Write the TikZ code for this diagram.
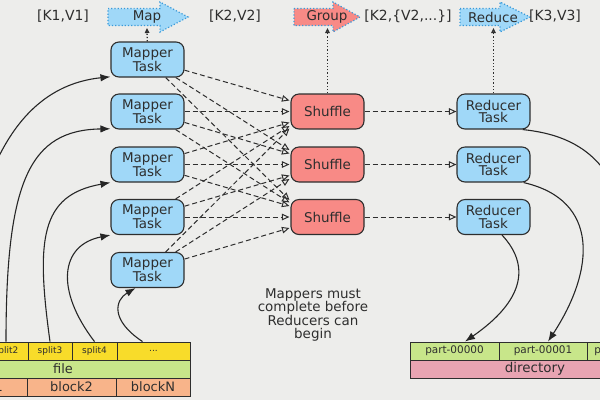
\documentclass[tikz,border=0pt]{standalone}
\usepackage{fontspec}
\setmainfont{DejaVu Sans}
\usetikzlibrary{arrows.meta,calc}
\definecolor{bg}{HTML}{EDEDEB}
\definecolor{taskblue}{HTML}{A0D8F8}
\definecolor{shufred}{HTML}{F88A86}
\definecolor{splity}{HTML}{F8DC2A}
\definecolor{filegreen}{HTML}{C8E68A}
\definecolor{blockor}{HTML}{F8B48A}
\definecolor{dirpink}{HTML}{E8A4B2}
\definecolor{dotblue}{HTML}{3A9AD9}
\definecolor{ink}{HTML}{2E2E2E}
\begin{document}
\begin{tikzpicture}[x=1bp,y=-1bp,
  task/.style={draw=ink, line width=1.1pt, rounded corners=8bp, minimum width=73bp,
    minimum height=35bp, align=center, inner sep=0pt,
    font=\fontsize{13.5}{12.5}\selectfont, text=ink},
  mapbox/.style={task, fill=taskblue},
  shufbox/.style={task, fill=shufred},
  flow/.style={draw=ink, line width=1pt, dash pattern=on 5bp off 3bp,
    -{Triangle[open,length=7.5bp,width=6.5bp]}},
  feed/.style={draw=black!85, line width=1.1pt, -{Latex[length=10bp,width=7.5bp]}},
  upline/.style={draw=ink, line width=1.3pt, dotted,
    -{Triangle[open,length=5bp,width=4.5bp]}},
  kv/.style={font=\fontsize{14}{14}\selectfont, text=ink},
  cell/.style={draw=ink, line width=0.9pt, inner sep=0pt, text=ink, minimum height=18bp},
  stage/.style={draw=dotblue, line width=1.2pt, dotted},
  stagetxt/.style={font=\fontsize{13.5}{13.5}\selectfont, text=ink}
]
\useasboundingbox (0,0) rectangle (600,400);
\clip (0,0) rectangle (600,400);
\fill[bg] (0,0) rectangle (600,400);

% top stage arrows
\filldraw[stage, fill=taskblue] (108,8.5) -- (160,8.5) -- (160,2) -- (188,17) -- (160,32) -- (160,25.5) -- (108,25.5) -- cycle;
\filldraw[stage, fill=shufred] (294,8.5) -- (333,8.5) -- (333,2) -- (360,17) -- (333,32) -- (333,25.5) -- (294,25.5) -- cycle;
\filldraw[stage, fill=taskblue] (460,8.5) -- (500,8.5) -- (500,2) -- (530,17) -- (500,32) -- (500,25.5) -- (460,25.5) -- cycle;
\node[stagetxt] (maplbl) at (147,17) {Map};
\node[stagetxt] (grplbl) at (327,17) {Group};
\node[stagetxt] (redlbl) at (493,17) {Reduce};
\coordinate (mapb) at (147,28);
\coordinate (grpb) at (327.5,28);
\coordinate (redb) at (493.5,28);

\node[kv] (kv1) at (63,16) {[K1,V1]};
\node[kv] (kv2) at (235,16) {[K2,V2]};
\node[kv] (kv3) at (408,16) {[K2,\{V2,...\}]};
\node[kv] (kv4) at (555,16) {[K3,V3]};

% tasks
\node[mapbox] (m1) at (147.5,59.5) {Mapper\\Task};
\node[mapbox] (m2) at (147.5,111.5) {Mapper\\Task};
\node[mapbox] (m3) at (147.5,164.5) {Mapper\\Task};
\node[mapbox] (m4) at (147.5,217) {Mapper\\Task};
\node[mapbox] (m5) at (147.5,270) {Mapper\\Task};
\node[shufbox] (s1) at (327.5,111.5) {Shuffle};
\node[shufbox] (s2) at (327.5,164.5) {Shuffle};
\node[shufbox] (s3) at (327.5,217) {Shuffle};
\node[mapbox] (r1) at (493.5,111.5) {Reducer\\Task};
\node[mapbox] (r2) at (493.5,164.5) {Reducer\\Task};
\node[mapbox] (r3) at (493.5,217) {Reducer\\Task};

% dotted up lines
\draw[upline] (m1) -- (mapb);
\draw[upline] (s1) -- (grpb);
\draw[upline] (r1) -- (redb);

% mapper -> shuffle
\foreach \i in {1,...,5}{
  \foreach \j in {1,2,3}{
    \pgfmathtruncatemacro\d{\i-\j-1+3}
    \pgfmathsetmacro\off{{-17,-14.5,-11,0,11,14.5,17}[\d]}
    \draw[flow] (m\i) -- ($(s\j.west)+(-1,\off)$);
  }
}
% shuffle -> reducer
\foreach \j in {1,2,3}{ \draw[flow] (s\j) -- (r\j); }

% input table
\node[cell, fill=splity, minimum width=48bp, font=\fontsize{9}{9}\selectfont] (sp1) at (-40,351) {split1};
\node[cell, fill=splity, minimum width=44bp, font=\fontsize{9}{9}\selectfont] (sp2) at (6,351) {split2};
\node[cell, fill=splity, minimum width=44bp, font=\fontsize{9}{9}\selectfont] (sp3) at (50,351) {split3};
\node[cell, fill=splity, minimum width=45bp, font=\fontsize{9}{9}\selectfont] (sp4) at (94.5,351) {split4};
\node[cell, fill=splity, minimum width=73bp, font=\fontsize{9}{9}\selectfont] (spd) at (153.5,351) {...};
\node[cell, fill=filegreen, minimum width=254bp, font=\fontsize{13}{13}\selectfont] (file) at (63,369) {file};
\node[cell, fill=blockor, minimum width=91bp, font=\fontsize{13}{13}\selectfont] (bk1) at (-18.5,387) {block1};
\node[cell, fill=blockor, minimum width=89bp, font=\fontsize{13}{13}\selectfont] (bk2) at (71.5,387) {block2};
\node[cell, fill=blockor, minimum width=74bp, font=\fontsize{13}{13}\selectfont] (bkn) at (153,387) {blockN};

% output table
\node[cell, fill=filegreen, minimum width=89bp, font=\fontsize{10.5}{10.5}\selectfont] (p0) at (454.5,351) {part-00000};
\node[cell, fill=filegreen, minimum width=88bp, font=\fontsize{10.5}{10.5}\selectfont] (p1) at (543,351) {part-00001};
\node[cell, fill=filegreen, minimum width=73bp, font=\fontsize{10.5}{10.5}\selectfont] (p2) at (623.5,351) {part-00002};
\node[cell, fill=dirpink, minimum width=250bp, font=\fontsize{13.5}{13.5}\selectfont] (dir) at (535,369) {directory};

% feeds from splits
\draw[feed] (sp1.north) .. controls (-30,150) and (30,85) .. (m1.205);
\draw[feed] (sp2.north) .. controls (6,180) and (30,130) .. (m2.205);
\draw[feed] (sp3.north) .. controls (36,240) and (40,195) .. (m3.206);
\draw[feed] (sp4.north) .. controls (55,290) and (60,245) .. (m4.206);
\draw[feed] ($(spd.north)+(-11,0)$) .. controls (110,320) and (115,300) .. ($(m5.south)+(-12,0)$);

% reducer outputs
\draw[feed] ($(r1.south east)+(-8,0)$) .. controls (575,135) and (650,160) .. (p2.north);
\draw[feed] ($(r2.south east)+(-7,0)$) .. controls (600,200) and (595,270) .. ($(p1.north)+(5,0)$);
\draw[feed] ($(r3.south)+(8.5,0)$) .. controls (530,265) and (525,300) .. ($(p0.north)+(10.5,0)$);

\node[align=center, font=\fontsize{13.5}{13.4}\selectfont, text=ink] (note) at (313,315)
  {Mappers must\\complete before\\Reducers can\\begin};
\end{tikzpicture}
\end{document}
